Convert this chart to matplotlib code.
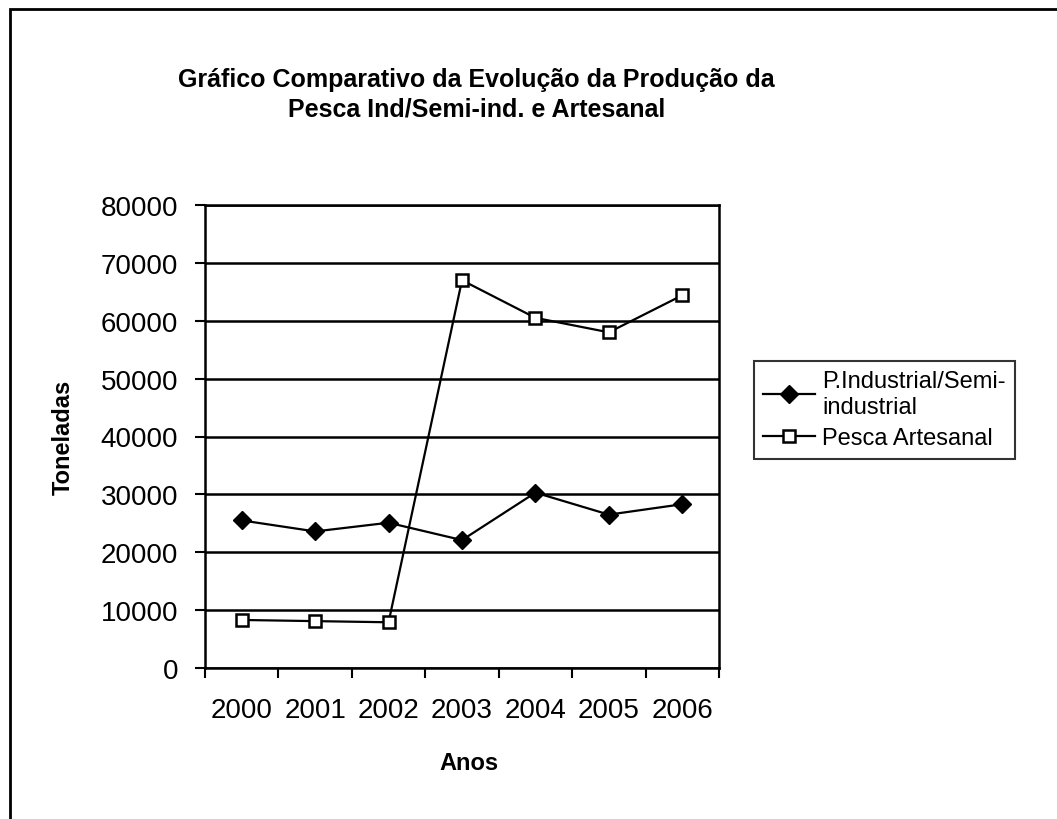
import matplotlib
matplotlib.use("Agg")
import matplotlib.pyplot as plt
from matplotlib.patches import Rectangle
import numpy as np

plt.rcParams['font.family'] = ['Liberation Sans', 'DejaVu Sans']

anos = ['2000', '2001', '2002', '2003', '2004', '2005', '2006']
industrial = [25500, 23600, 25100, 22100, 30300, 26500, 28300]
artesanal = [8300, 8100, 7900, 67000, 60500, 58000, 64400]
yticks = [0, 10000, 20000, 30000, 40000, 50000, 60000, 70000, 80000]

W, H = 1057, 820
fig = plt.figure(figsize=(W / 100, H / 100), dpi=100)
ax = fig.add_axes([205 / W, 1 - 669 / H, 514 / W, 463 / H])

# categories sit between the tick marks, Excel style
xpos = np.arange(len(anos)) + 0.5
ax.plot(xpos, industrial, color='black', lw=1.6, marker='D', ms=9,
        mfc='black', mec='black', label='P.Industrial/Semi-\nindustrial')
ax.plot(xpos, artesanal, color='black', lw=1.6, marker='s', ms=9,
        mfc='white', mec='black', mew=1.8, label='Pesca Artesanal')

ax.set_xlim(0, len(anos))
ax.set_ylim(0, 80000)
ax.set_yticks(yticks)
ax.set_yticklabels([str(v) for v in yticks], fontsize=20)
ax.set_xticks(np.arange(len(anos) + 1))
ax.set_xticklabels([])
ax.set_xticks(xpos, minor=True)
ax.set_xticklabels(anos, minor=True, fontsize=20)
ax.tick_params(axis='x', which='minor', length=0, pad=21)
ax.tick_params(axis='x', which='major', direction='out', length=7.5, width=1.5)
ax.tick_params(axis='y', direction='out', length=7.5, width=1.5, pad=12)

ax.grid(axis='y', color='black', lw=1.8)
ax.set_axisbelow(True)
for s in ax.spines.values():
    s.set_linewidth(1.8)
    s.set_color('black')

ax.set_xlabel('Anos', fontsize=17, fontweight='bold')
ax.xaxis.set_label_coords(0.514, -0.18)
ax.set_ylabel('Toneladas', fontsize=17, fontweight='bold')
ax.yaxis.set_label_coords(-0.253, 0.5)

fig.text(0.451, 1 - 95 / H, 'Gráfico Comparativo da Evolução da Produção da\nPesca Ind/Semi-ind. e Artesanal',
         ha='center', va='center', fontsize=18, fontweight='bold', linespacing=1.3)

leg = ax.legend(loc='upper left', bbox_to_anchor=(742 / W, 1 - 350 / H),
                bbox_transform=fig.transFigure, fontsize=17, frameon=True,
                fancybox=False, edgecolor='black', handlelength=2.2,
                borderpad=0.4, labelspacing=0.4, handletextpad=0.3)
leg.get_frame().set_linewidth(1.5)

# outer chart border, cut off at right and bottom in the scan
fig.patches.append(Rectangle((10 / W, -0.1), 1.2, 1 - 10 / H + 0.1,
                             transform=fig.transFigure, fill=False,
                             edgecolor='black', lw=2))

fig.savefig('out.png', dpi=100)
